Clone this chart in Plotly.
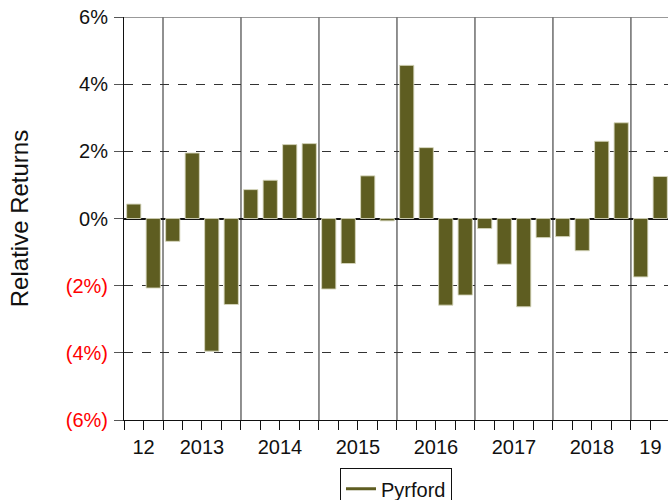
import plotly.graph_objects as go

years = ["12", "2013", "2014", "2015", "2016", "2017", "2018", "19"]
quarters_per_year = [2, 4, 4, 4, 4, 4, 4, 2]
returns = [0.43, -2.07,
           -0.68, 1.95, -3.95, -2.56,
           0.86, 1.14, 2.20, 2.23,
           -2.10, -1.34, 1.27, -0.07,
           4.56, 2.11, -2.58, -2.28,
           -0.30, -1.36, -2.63, -0.57,
           -0.54, -0.96, 2.30, 2.85,
           -1.74, 1.25]
y_ticks = [-6, -4, -2, 0, 2, 4, 6]

def fmt(v):
    if v < 0:
        return f"<span style='color:#ff0000'>({abs(v)}%)</span>"
    return f"{v}%"

x = list(range(len(returns)))

# year boundaries and centers derived from quarter counts
bounds = []
centers = []
start = -0.5
for n in quarters_per_year:
    centers.append(start + n / 2)
    start += n
    bounds.append(start)
inner_bounds = bounds[:-1]
quarter_edges = [-0.5 + i for i in range(len(returns) + 1)]

olive = "#5e5d21"
font = "Liberation Sans, Arial, sans-serif"
xr = [-0.5, 27.4]

fig = go.Figure()
fig.add_trace(go.Bar(x=x, y=returns, width=0.73,
                     marker=dict(color=olive, line=dict(color="rgba(215,215,190,0.9)", width=1)),
                     showlegend=False))
fig.add_trace(go.Scatter(x=[None], y=[None], mode="lines", name="Pyrford",
                         line=dict(color=olive, width=3)))

for b in inner_bounds:
    fig.add_vline(x=b, line=dict(color="#222", width=1), layer="below")
fig.add_hline(y=y_ticks[-1], line=dict(color="#777", width=1.5))

fig.update_layout(
    width=668, height=500,
    margin=dict(l=124, r=0, t=17, b=80, autoexpand=False),
    plot_bgcolor="white", paper_bgcolor="white",
    font=dict(family=font, size=20, color="#111"),
    xaxis=dict(
        range=xr, automargin=False,
        tickmode="array", tickvals=quarter_edges, ticktext=[""] * len(quarter_edges),
        ticks="outside", ticklen=9, tickcolor="#111", tickwidth=1,
        showgrid=False, zeroline=False,
        showline=True, linecolor="#111", linewidth=1,
    ),
    xaxis2=dict(
        range=xr, automargin=False, overlaying="x", side="bottom", anchor="y",
        tickmode="array", tickvals=centers, ticktext=years,
        ticks="outside", ticklen=9, tickcolor="rgba(0,0,0,0)",
        showgrid=False, zeroline=False, showline=False,
        tickfont=dict(size=20, color="#111"), ticklabeloverflow="allow",
    ),
    yaxis=dict(
        range=[-6, 6], automargin=False,
        tickmode="array", tickvals=y_ticks, ticktext=[fmt(v) for v in y_ticks],
        ticks="outside", ticklen=9, tickcolor="#555", tickwidth=1,
        showgrid=True, gridcolor="#333", griddash="dash", gridwidth=1,
        zeroline=True, zerolinecolor="#111", zerolinewidth=2,
        showline=True, linecolor="#111", linewidth=1,
        tickfont=dict(size=20, color="#111"), ticklabelstandoff=2, ticklabeloverflow="allow",
        title=dict(text="Relative Returns", font=dict(size=24, color="#111"), standoff=30),
    ),
    legend=dict(orientation="h", x=0.5, xanchor="center", y=-0.12, yanchor="top",
                bordercolor="#111", borderwidth=1, font=dict(size=20, color="#111")),
)
# invisible trace to activate xaxis2 labels
fig.add_trace(go.Scatter(x=[None], y=[None], xaxis="x2", showlegend=False))

fig.write_html("out.html", config={"displayModeBar": False},
               post_script="document.body.style.margin='0';document.body.style.overflow='hidden';")
